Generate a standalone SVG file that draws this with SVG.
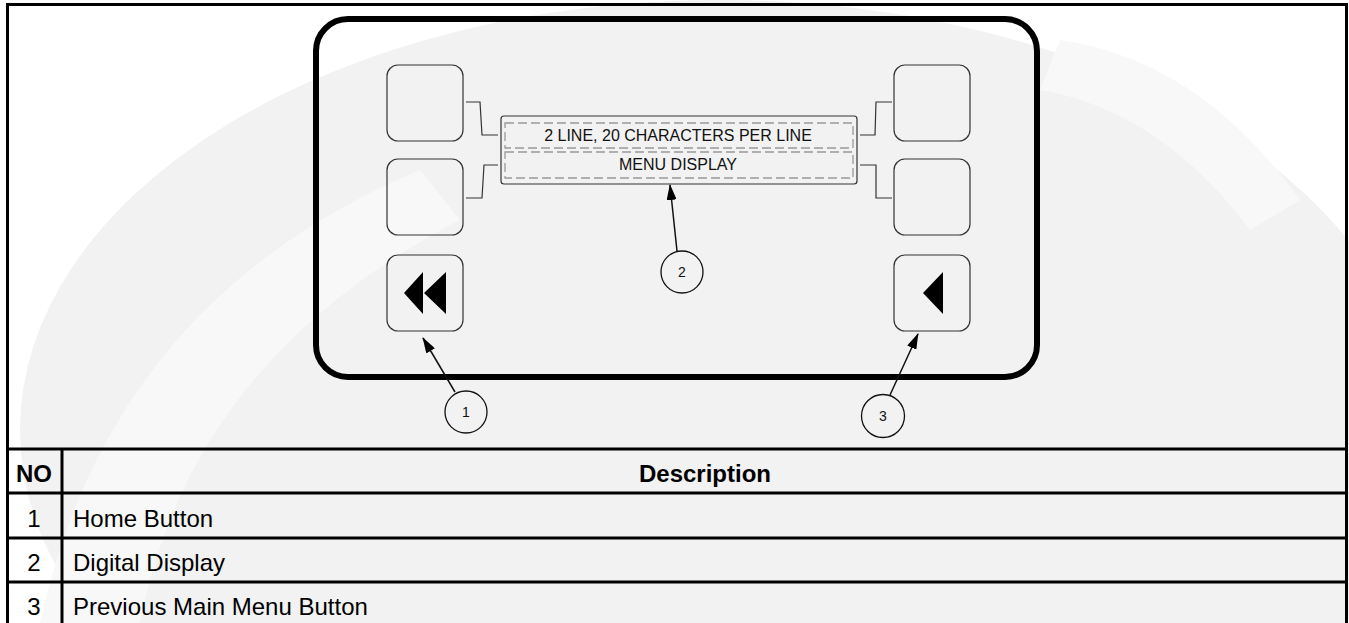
<svg xmlns="http://www.w3.org/2000/svg" width="1349" height="623" viewBox="0 0 1349 623">
<style>
.btn{fill:none;stroke:#333;stroke-width:1.2}
.lead{fill:none;stroke:#333;stroke-width:1.2}
.dash{fill:none;stroke:#999;stroke-width:1.3;stroke-dasharray:9 4}
.disp{font-family:"Liberation Sans",Arial,sans-serif;font-size:16px;fill:#111;text-anchor:middle}
.num{font-family:"Liberation Sans",Arial,sans-serif;font-size:14px;fill:#111;text-anchor:middle}
.call{fill:none;stroke:#111;stroke-width:1.3}
.arr{stroke:#111;stroke-width:1.5;fill:none}
.grid{stroke:#000;stroke-width:3;fill:none}
.th{font-family:"Liberation Sans",Arial,sans-serif;font-size:24px;font-weight:bold;fill:#000}
.td{font-family:"Liberation Sans",Arial,sans-serif;font-size:24px;fill:#000}
</style>
<defs>
<marker id="ah2" viewBox="0 0 16 10" refX="15" refY="5" markerWidth="16" markerHeight="10" markerUnits="userSpaceOnUse" orient="auto">
<path d="M0,0 L16,5 L0,10 Z" fill="#000"/>
</marker>
</defs>
<rect x="0" y="0" width="1349" height="623" fill="#fff"/>
<g id="watermark">
<ellipse cx="720" cy="430" rx="700" ry="430" fill="#f2f2f2"/>
<path d="M40 623 Q110 300 420 170 L460 220 Q190 360 140 623 Z" fill="#f8f8f8"/>
<path d="M1060 40 Q1200 60 1300 200 L1250 230 Q1160 110 1040 90 Z" fill="#f8f8f8"/>
</g>
<g id="table">
<rect class="grid" x="7.5" y="4.5" width="1339" height="620"/>
<line class="grid" x1="7.5" y1="449" x2="1346.5" y2="449"/>
<line class="grid" x1="7.5" y1="493" x2="1346.5" y2="493"/>
<line class="grid" x1="7.5" y1="538" x2="1346.5" y2="538"/>
<line class="grid" x1="7.5" y1="582" x2="1346.5" y2="582"/>
<line class="grid" x1="62" y1="449" x2="62" y2="623"/>
<text class="th" x="34" y="482" text-anchor="middle">NO</text>
<text class="th" x="705" y="482" text-anchor="middle">Description</text>
<text class="td" x="34" y="527" text-anchor="middle">1</text>
<text class="td" x="73" y="527">Home Button</text>
<text class="td" x="34" y="571" text-anchor="middle">2</text>
<text class="td" x="73" y="571">Digital Display</text>
<text class="td" x="34" y="615" text-anchor="middle">3</text>
<text class="td" x="73" y="615">Previous Main Menu Button</text>
</g>
<g id="device">
<rect x="316" y="19" width="721" height="358" rx="32" ry="32" fill="none" stroke="#000" stroke-width="6"/>
</g>
<g id="btn-left-top"><rect class="btn" x="387" y="65" width="76" height="76" rx="11"/></g>
<g id="btn-left-mid"><rect class="btn" x="387" y="159" width="76" height="76" rx="11"/></g>
<g id="btn-home">
<rect class="btn" x="387" y="255" width="76" height="76" rx="11"/>
<path d="M404 293 L423 272 L423 314 Z M424 293 L446 272 L446 314 Z" fill="#000"/>
</g>
<g id="btn-right-top"><rect class="btn" x="894" y="65" width="76" height="76" rx="11"/></g>
<g id="btn-right-mid"><rect class="btn" x="894" y="159" width="76" height="76" rx="11"/></g>
<g id="btn-back">
<rect class="btn" x="894" y="255" width="76" height="76" rx="11"/>
<path d="M923 293 L943 272 L943 314 Z" fill="#000"/>
</g>
<g id="display">
<rect x="501" y="116" width="356" height="68" rx="3" fill="none" stroke="#333" stroke-width="1.2"/>
<rect class="dash" x="505" y="123" width="348" height="25"/>
<rect class="dash" x="505" y="152" width="348" height="26"/>
<text class="disp" x="678" y="141">2 LINE, 20 CHARACTERS PER LINE</text>
<text class="disp" x="678" y="170">MENU DISPLAY</text>
</g>
<g id="connectors">
<polyline class="lead" points="466,102 480,102 482,135 498,135"/>
<polyline class="lead" points="498,165 484,165 482,198 466,198"/>
<polyline class="lead" points="860,135 875,135 876,102 892,102"/>
<polyline class="lead" points="860,165 876,165 876,198 892,198"/>
<line class="arr" x1="677" y1="251" x2="670" y2="185" marker-end="url(#ah2)"/>
<line class="arr" x1="455" y1="392" x2="423" y2="338" marker-end="url(#ah2)"/>
<line class="arr" x1="890" y1="395" x2="918" y2="334" marker-end="url(#ah2)"/>
</g>
<g id="callout-1"><circle class="call" cx="466" cy="412" r="21"/><text class="num" x="466" y="417">1</text></g>
<g id="callout-2"><circle class="call" cx="682" cy="272" r="21"/><text class="num" x="682" y="277">2</text></g>
<g id="callout-3"><circle class="call" cx="883" cy="416" r="21.5"/><text class="num" x="883" y="421">3</text></g>
</svg>
